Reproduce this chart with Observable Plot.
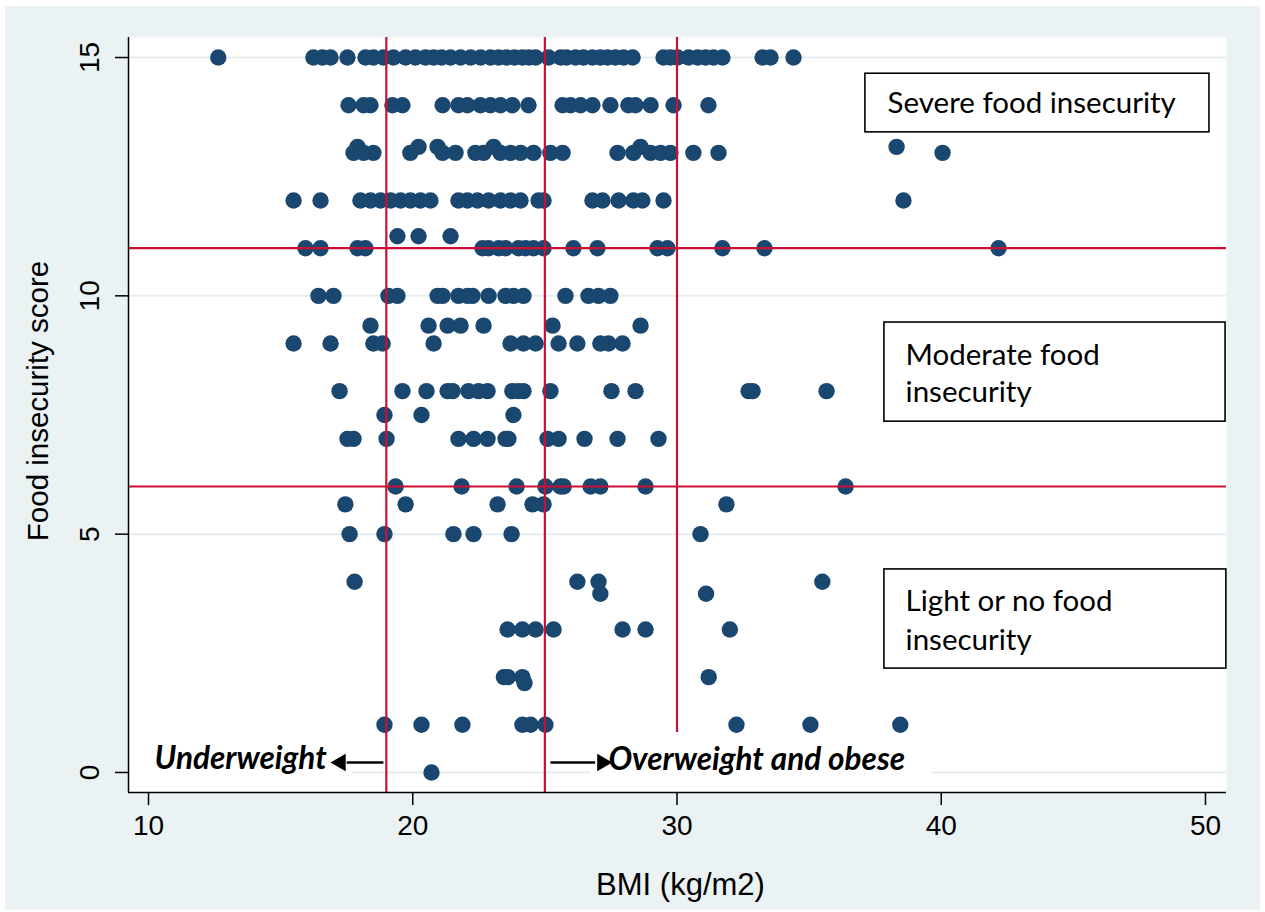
<!DOCTYPE html>
<html><head><meta charset="utf-8">
<script src="https://cdn.jsdelivr.net/npm/d3@7"></script>
<script src="https://cdn.jsdelivr.net/npm/@observablehq/plot@0.6"></script>
<style>
body{margin:0;background:#fff;}
#wrap{position:relative;width:1265px;height:912px;overflow:hidden;}
#border{position:absolute;left:0;top:0;width:1265px;height:912px;box-sizing:border-box;border-style:solid;border-color:#fff;border-width:6px 5px 2px 5px;pointer-events:none;}
</style></head><body>
<div id="wrap"><div id="chart"></div><div id="border"></div></div>
<script>
// ---- data: BMI values read per food-insecurity score level ----
const bmi_15 = [12.64, 16.24, 16.58, 16.89, 17.53, 18.21, 18.51, 18.89, 19.27, 19.73, 20.10, 20.48, 20.79, 21.09, 21.43, 21.81, 22.19, 22.57, 22.94, 23.25, 23.55, 23.85, 24.15, 24.40, 24.65, 25.14, 25.60, 25.82, 26.16, 26.46, 26.80, 27.10, 27.37, 27.67, 27.98, 28.32, 29.49, 29.75, 30.02, 30.44, 30.78, 31.08, 31.38, 31.72, 33.24, 33.54, 34.41];
const bmi_14 = [17.57, 18.14, 18.40, 19.23, 19.61, 21.13, 21.73, 22.07, 22.56, 22.94, 23.32, 23.77, 24.38, 25.67, 25.97, 26.35, 26.80, 27.48, 28.16, 28.43, 29.00, 29.87, 31.19];
const bmi_13_1 = [17.91, 20.22, 20.94, 23.06, 28.62, 38.31];
const bmi_13 = [17.76, 18.14, 18.51, 19.91, 21.13, 21.62, 22.37, 22.68, 23.32, 23.70, 24.08, 24.57, 25.21, 25.67, 27.75, 28.35, 29.00, 29.38, 29.75, 30.62, 31.57, 40.05];
const bmi_12 = [15.49, 16.51, 18.02, 18.40, 18.78, 19.16, 19.54, 19.91, 20.29, 20.67, 21.73, 22.07, 22.45, 22.87, 23.32, 23.70, 24.08, 24.76, 24.95, 26.80, 27.18, 27.79, 28.35, 28.69, 29.49, 38.57];
const bmi_11_3 = [19.42, 20.22, 21.43];
const bmi_11 = [15.94, 16.51, 17.91, 18.21, 22.64, 22.87, 23.25, 23.51, 24.00, 24.27, 24.57, 24.95, 26.08, 26.99, 29.26, 29.64, 31.72, 33.31, 42.17];
const bmi_10 = [16.43, 17.00, 19.08, 19.42, 20.94, 21.13, 21.73, 22.07, 22.26, 22.87, 23.51, 23.81, 24.19, 25.78, 26.65, 27.03, 27.48];
const bmi_9_4 = [18.40, 20.60, 21.32, 21.81, 22.68, 25.29, 28.62];
const bmi_9 = [15.49, 16.89, 18.51, 18.86, 20.79, 23.70, 24.19, 24.65, 25.52, 26.23, 27.10, 27.41, 27.94];
const bmi_8 = [17.23, 19.61, 20.52, 21.32, 21.51, 22.11, 22.49, 22.83, 23.77, 24.00, 24.19, 25.21, 27.52, 28.43, 32.71, 32.86, 35.66];
const bmi_7_5 = [18.93, 20.33, 23.81];
const bmi_7 = [17.53, 17.76, 19.01, 21.73, 22.30, 22.83, 23.51, 23.62, 25.10, 25.52, 26.50, 27.75, 29.30];
const bmi_6 = [19.35, 21.85, 23.93, 25.02, 25.59, 25.71, 26.73, 27.10, 28.81, 36.38];
const bmi_5_6 = [17.45, 19.73, 23.21, 24.53, 24.95, 31.87];
const bmi_5 = [17.61, 18.93, 21.54, 22.30, 23.74, 30.89];
const bmi_4 = [17.80, 26.23, 27.03, 35.50];
const bmi_3_8 = [27.10, 31.10];
const bmi_3 = [23.59, 24.15, 24.65, 25.33, 27.94, 28.81, 32.00];
const bmi_2 = [23.45, 23.60, 24.15, 31.20];
const bmi_1_9 = [24.23];
const bmi_1 = [18.93, 20.33, 21.88, 24.15, 24.46, 25.02, 32.25, 35.05, 38.45];
const bmi_0 = [20.71];

const scoreLevels = [15, 14, 13.125, 13, 12, 11.25, 11, 10, 9.375, 9, 8, 7.5, 7, 6, 5.625, 5, 4, 3.75, 3, 2, 1.875, 1, 0];
const bmiByLevel = [bmi_15, bmi_14, bmi_13_1, bmi_13, bmi_12, bmi_11_3, bmi_11, bmi_10, bmi_9_4, bmi_9, bmi_8, bmi_7_5, bmi_7, bmi_6, bmi_5_6, bmi_5, bmi_4, bmi_3_8, bmi_3, bmi_2, bmi_1_9, bmi_1, bmi_0];

const xTicks = [10, 20, 30, 40, 50];
const yTicks = [0, 5, 10, 15];
const bmiCutoffs = [19, 25];
const obeseCutoff = [30];
const scoreCutoffs = [6, 11];

const boxLabels = ["Severe food insecurity", "Moderate food", "insecurity", "Light or no food", "insecurity"];
const arrowLabels = ["Underweight", "Overweight and obese"];

// ---- layout / annotation geometry (data units) ----
const xDomain = [9.243, 50.795];
const yDomain = [-0.42, 15.42];
const boxes = [
  {x1: 37.13, x2: 50.15, y1: 13.43, y2: 14.66},
  {x1: 37.85, x2: 50.76, y1: 7.36, y2: 9.44},
  {x1: 37.85, x2: 50.79, y1: 2.18, y2: 4.26}
];
const boxTextPos = [[37.97, 14.03], [38.65, 8.75], [38.65, 7.97], [38.65, 3.59], [38.65, 2.77]];
const labelBacks = [{x1: 9.32, x2: 17.72, y1: -0.3, y2: 0.6}, {x1: 26.73, x2: 39.67, y1: -0.3, y2: 0.6}];
const arrowTextPos = [[10.23, 0.29], [27.41, 0.26]];
const arrowLines = [{x1: 18.89, x2: 17.5, y: 0.21}, {x1: 25.21, x2: 26.9, y: 0.21}];
const arrowHeads = [{x: 17.27, y: 0.21, rot: -90}, {x: 27.17, y: 0.21, rot: 90}];

const points = scoreLevels.flatMap((s, i) => bmiByLevel[i].map(b => ({bmi: b, score: s})));
const navy = "#1a476f";
const red = "#cc0f35";
const grid = "#e5edf0";
const axisFont = "Liberation Sans, Arial, sans-serif";
const boxFont = "Lato, 'Open Sans', sans-serif";

const chart = Plot.plot({
  width: 1265, height: 912,
  marginTop: 37, marginRight: 39, marginBottom: 120, marginLeft: 128,
  x: {domain: xDomain},
  y: {domain: yDomain},
  style: {background: "#eaf2f3", fontFamily: axisFont, color: "black"},
  marks: [
    Plot.frame({fill: "white", stroke: "none"}),
    Plot.ruleY(yTicks, {stroke: grid, strokeWidth: 2}),
    Plot.rect(labelBacks, {x1: "x1", x2: "x2", y1: "y1", y2: "y2", fill: "white"}),
    Plot.dot(points, {x: "bmi", y: "score", r: 8.2, fill: navy, stroke: "none"}),
    Plot.ruleX(bmiCutoffs, {stroke: red, strokeWidth: 2.2}),
    Plot.ruleX(obeseCutoff, {y1: 0.84, y2: yDomain[1], stroke: red, strokeWidth: 2.2}),
    Plot.ruleY(scoreCutoffs, {stroke: red, strokeWidth: 2.2}),
    Plot.rect(boxes, {x1: "x1", x2: "x2", y1: "y1", y2: "y2", fill: "white", stroke: "black", strokeWidth: 1.6}),
    Plot.text(boxLabels, {x: (d, i) => boxTextPos[i][0], y: (d, i) => boxTextPos[i][1], text: d => d, textAnchor: "start", lineAnchor: "middle", fontFamily: boxFont, fontSize: 29.5, fill: "black"}),
    Plot.text(arrowLabels, {x: (d, i) => arrowTextPos[i][0], y: (d, i) => arrowTextPos[i][1], text: d => d, textAnchor: "start", lineAnchor: "middle", fontFamily: boxFont, fontSize: 31.5, fontWeight: "bold", fontStyle: "italic", fill: "black"}),
    Plot.link(arrowLines, {x1: "x1", x2: "x2", y1: "y", y2: "y", stroke: "black", strokeWidth: 2.5}),
    Plot.dot(arrowHeads, {x: "x", y: "y", symbol: "triangle", r: 6.5, rotate: "rot", fill: "black", stroke: "none"}),
    Plot.ruleX([xDomain[0]], {stroke: "black", strokeWidth: 1.5}),
    Plot.ruleY([yDomain[0]], {stroke: "black", strokeWidth: 1.5}),
    Plot.axisX({ticks: xTicks, tickSize: 13, tickPadding: 10, fontSize: 28, label: null, stroke: "black", strokeWidth: 1.5}),
    Plot.axisY({ticks: yTicks, tickSize: 13, tickFormat: () => "", label: null, stroke: "black", strokeWidth: 1.5}),
    Plot.text(yTicks, {y: d => d, text: d => String(d), frameAnchor: "left", dx: -38, rotate: -90, textAnchor: "middle", lineAnchor: "middle", fontSize: 28}),
    Plot.text(["Food insecurity score"], {frameAnchor: "left", dx: -90, dy: -14, rotate: -90, textAnchor: "middle", lineAnchor: "middle", fontSize: 29.5}),
    Plot.text(["BMI (kg/m2)"], {frameAnchor: "bottom", dx: 3, dy: 93, textAnchor: "middle", lineAnchor: "middle", fontSize: 31})
  ]
});
document.getElementById("chart").appendChild(chart);
</script>
</body></html>
